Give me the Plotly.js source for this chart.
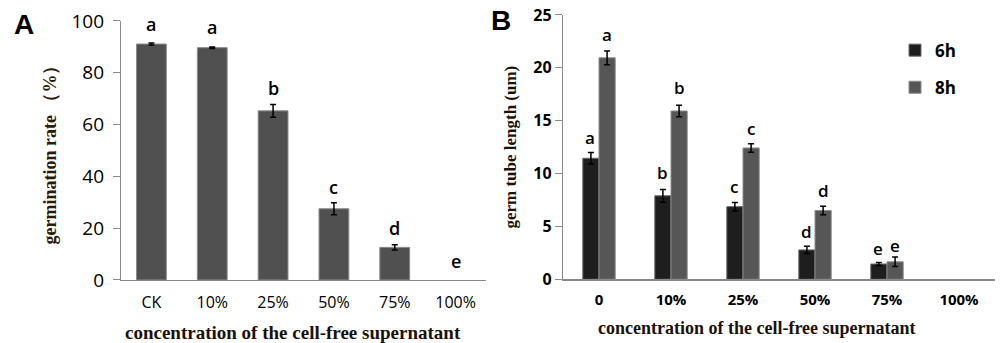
<!DOCTYPE html>
<html><head><meta charset="utf-8">
<script src="https://cdn.plot.ly/plotly-3.0.1.min.js"></script>
<style>html,body{margin:0;padding:0;background:#fff}#chart{width:1000px;height:343px}</style>
</head><body><div id="chart"></div>
<script>
// Panel A data
const catsA = ["CK", "10%", "25%", "50%", "75%", "100%"];
const germRate = [91.1, 89.7, 65.3, 27.5, 12.6, 0];
const germErr = [0.4, 0.3, 2.5, 2.3, 1.0, NaN];
const lettersA = ["a", "a", "b", "c", "d", "e"];
const letterYA = [99, 97.5, 74, 36, 20, 7.5];

// Panel B data
const catsB = ["0", "10%", "25%", "50%", "75%", "100%"];
const len6h = [11.45, 7.9, 6.87, 2.78, 1.45, 0];
const err6h = [0.55, 0.6, 0.4, 0.35, 0.15, NaN];
const len8h = [20.95, 15.92, 12.42, 6.5, 1.65, 0];
const err8h = [0.65, 0.55, 0.4, 0.4, 0.45, NaN];
const letters6h = ["a", "b", "c", "d", "e"];
const letters8h = ["a", "b", "c", "d", "e"];
const letterY6h = [13.4, 10.1, 8.8, 4.5, 2.9];
const letterY8h = [23.2, 18.1, 14.3, 8.4, 3.2];

const xTitle = "concentration of the cell-free supernatant";

const sans = "Open Sans, Liberation Sans, sans-serif";
const serif = "Liberation Serif, DejaVu Serif, serif";

const lineW = v => v.map(d => d > 0 ? 1 : 0);

const traces = [
  {type: "bar", x: catsA, y: germRate, xaxis: "x", yaxis: "y", width: 0.49,
   marker: {color: "#505050", line: {color: "#8a8a8a", width: lineW(germRate)}},
   error_y: {type: "data", array: germErr, visible: true, color: "#000", thickness: 1.5, width: 3},
   showlegend: false},
  {type: "bar", name: "6h", x: catsB, y: len6h, xaxis: "x2", yaxis: "y2", legendgroup: "g1",
   marker: {color: "#1e1e1e", line: {color: "#6a6a6a", width: lineW(len6h)}},
   error_y: {type: "data", array: err6h, visible: true, color: "#000", thickness: 1.5, width: 3}},
  {type: "bar", name: "8h", x: catsB, y: len8h, xaxis: "x2", yaxis: "y2", legendgroup: "g2",
   marker: {color: "#565656", line: {color: "#8a8a8a", width: lineW(len8h)}},
   error_y: {type: "data", array: err8h, visible: true, color: "#000", thickness: 1.5, width: 3}}
];

const annotations = [];
catsA.forEach((c, i) => annotations.push({xref: "x", yref: "y", x: i, y: letterYA[i], text: lettersA[i],
  showarrow: false, font: {family: sans, size: 18, color: "#000", weight: 600}}));
letters6h.forEach((t, i) => annotations.push({xref: "x2", yref: "y2", x: i, xshift: -9, y: letterY6h[i], text: t,
  showarrow: false, font: {family: sans, size: 17, color: "#000", weight: 600}}));
letters8h.forEach((t, i) => annotations.push({xref: "x2", yref: "y2", x: i, xshift: 8, y: letterY8h[i], text: t,
  showarrow: false, font: {family: sans, size: 17, color: "#000", weight: 600}}));
annotations.push({xref: "paper", yref: "paper", x: 0.012, y: 0.93, xanchor: "left", yanchor: "middle",
  text: "A", showarrow: false, font: {family: "Liberation Sans, Arial, sans-serif", size: 28, color: "#000", weight: "bold"}});
annotations.push({xref: "paper", yref: "paper", x: 0.489, y: 0.94, xanchor: "left", yanchor: "middle",
  text: "B", showarrow: false, font: {family: "Liberation Sans, Arial, sans-serif", size: 28, color: "#000", weight: "bold"}});
annotations.push({xref: "paper", yref: "paper", x: 0.2925, y: 1 - 332 / 343, xanchor: "center", yanchor: "middle",
  text: xTitle, showarrow: false, font: {family: serif, size: 19, color: "#1a1208", weight: "bold"}});
annotations.push({xref: "paper", yref: "paper", x: 0.757, y: 1 - 328 / 343, xanchor: "center", yanchor: "middle",
  text: xTitle, showarrow: false, font: {family: serif, size: 18, color: "#1a1208", weight: "bold"}});

const layout = {
  width: 1000, height: 343,
  margin: {l: 0, r: 0, t: 0, b: 0},
  paper_bgcolor: "#fff", plot_bgcolor: "#fff",
  barmode: "group", bargap: 0.55, bargroupgap: 0,
  showlegend: true,
  legend: {x: 0.895, y: 0.905, xanchor: "left", yanchor: "top", font: {family: sans, size: 17, color: "#000", weight: "bold"},
    tracegroupgap: 12, itemwidth: 30, bgcolor: "rgba(0,0,0,0)"},
  xaxis: {type: "category", domain: [0.121, 0.486], range: [-0.5, 5.5], showline: true, linecolor: "#8a8a8a", linewidth: 1.2,
    ticks: "", showgrid: false, zeroline: false, anchor: "y", ticklabelstandoff: 8,
    tickfont: {family: sans, size: 16, color: "#000"}},
  yaxis: {domain: [0.1837, 0.9388], range: [0, 100], tickvals: [0, 20, 40, 60, 80, 100], showline: true,
    linecolor: "#8a8a8a", linewidth: 1.2, ticks: "outside", ticklen: 7, tickcolor: "#8a8a8a", showgrid: false,
    zeroline: false, anchor: "x", ticklabelstandoff: 5, tickfont: {family: sans, size: 19, color: "#000"},
    title: {text: "germination rate （%）", standoff: 10, font: {family: serif, size: 18, color: "#2a1a08", weight: "bold"}}},
  xaxis2: {type: "category", domain: [0.563, 0.995], range: [-0.5, 5.5], showline: true, linecolor: "#8a8a8a", linewidth: 1.2,
    ticks: "", showgrid: false, zeroline: false, anchor: "y2", ticklabelstandoff: 6,
    tickfont: {family: sans, size: 15, color: "#000", weight: "bold"}},
  yaxis2: {domain: [0.1857, 0.9563], range: [0, 25], tickvals: [0, 5, 10, 15, 20, 25], showline: true,
    linecolor: "#8a8a8a", linewidth: 1.2, ticks: "outside", ticklen: 7, tickcolor: "#8a8a8a", showgrid: false,
    zeroline: false, anchor: "x2", tickfont: {family: sans, size: 16, color: "#000", weight: "bold"},
    title: {text: "germ tube length (um)", standoff: 12, font: {family: serif, size: 17, color: "#1a1208", weight: "bold"}}},
  annotations: annotations
};

Plotly.newPlot("chart", traces, layout, {staticPlot: true});
</script></body></html>
